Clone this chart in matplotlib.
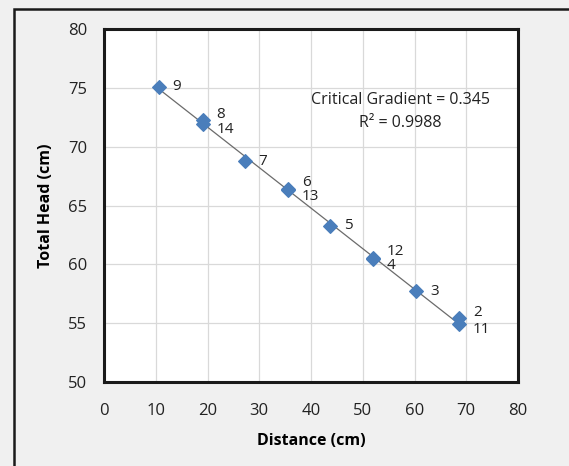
import matplotlib.pyplot as plt
import numpy as np
from matplotlib.patches import Rectangle

# sample number, distance from the top (cm) and total head (cm)
sample_ids = ['2', '3', '4', '5', '6', '7', '8', '9', '11', '12', '13', '14']
distance = [68.6, 60.3, 52.0, 43.7, 35.6, 27.2, 19.1, 10.6, 68.6, 52.0, 35.6, 19.1]
total_head = [55.4, 57.7, 60.45, 63.3, 66.4, 68.75, 72.3, 75.1, 54.9, 60.5, 66.35, 71.9]

x_ticks = [0, 10, 20, 30, 40, 50, 60, 70, 80]
y_ticks = [50, 55, 60, 65, 70, 75, 80]

gradient_text = 'Critical Gradient = 0.345'
r2_text = 'R² = 0.9988'

# small vertical nudges (points) so stacked labels do not sit on top of each other
label_nudge = {'2': 4, '11': -4, '8': 4, '14': -4, '6': 5, '13': -5, '12': 5, '4': -5}

plt.rcParams['font.family'] = ['Open Sans', 'DejaVu Sans']

fig = plt.figure(figsize=(5.69, 4.66), dpi=100, facecolor='#F0F0F0')
ax = fig.add_axes([104 / 569, 1 - 382 / 466, 414 / 569, 353 / 466])

# chart area border (cropped on the right and bottom)
fig.patches.append(Rectangle((14 / 569, -0.05), 1.1, 1 - 9 / 466 + 0.05,
                             transform=fig.transFigure, fill=False,
                             edgecolor='#1a1a1a', linewidth=1.8))

ax.set_facecolor('white')
ax.set_xlim(0, 80)
ax.set_ylim(50, 80)
ax.set_xticks(x_ticks)
ax.set_yticks(y_ticks)
ax.grid(color='#D9D9D9', linewidth=0.9)
ax.set_axisbelow(True)
ax.tick_params(length=0, labelsize=12, colors='#222222')
ax.tick_params(axis='x', pad=15)
ax.tick_params(axis='y', pad=12)
for sp in ax.spines.values():
    sp.set_linewidth(2.2)
    sp.set_color('#1a1a1a')

# linear trendline through the data
slope, intercept = np.polyfit(distance, total_head, 1)
xs = np.array([min(distance), max(distance)])
ax.plot(xs, slope * xs + intercept, color='#6b6b6b', linewidth=0.9, zorder=2)

ax.scatter(distance, total_head, marker='D', s=48, color='#4A7EBB',
           edgecolors='#4A7EBB', zorder=3)

for sid, xv, yv in zip(sample_ids, distance, total_head):
    ax.annotate(sid, (xv, yv), xytext=(10, label_nudge.get(sid, 0)),
                textcoords='offset points', ha='left', va='center',
                fontsize=11, color='#222222', zorder=4)

ax.text(0.715, 0.799, gradient_text, transform=ax.transAxes,
        ha='center', va='center', fontsize=11.5, color='#222222')
ax.text(0.715, 0.734, r2_text, transform=ax.transAxes,
        ha='center', va='center', fontsize=11.5, color='#222222')

ax.set_xlabel('Distance (cm)', fontsize=11.5, fontweight='bold', labelpad=10)
ax.set_ylabel('Total Head (cm)', fontsize=11.5, fontweight='bold', labelpad=10)

plt.savefig('out.png', dpi=100, facecolor=fig.get_facecolor())
